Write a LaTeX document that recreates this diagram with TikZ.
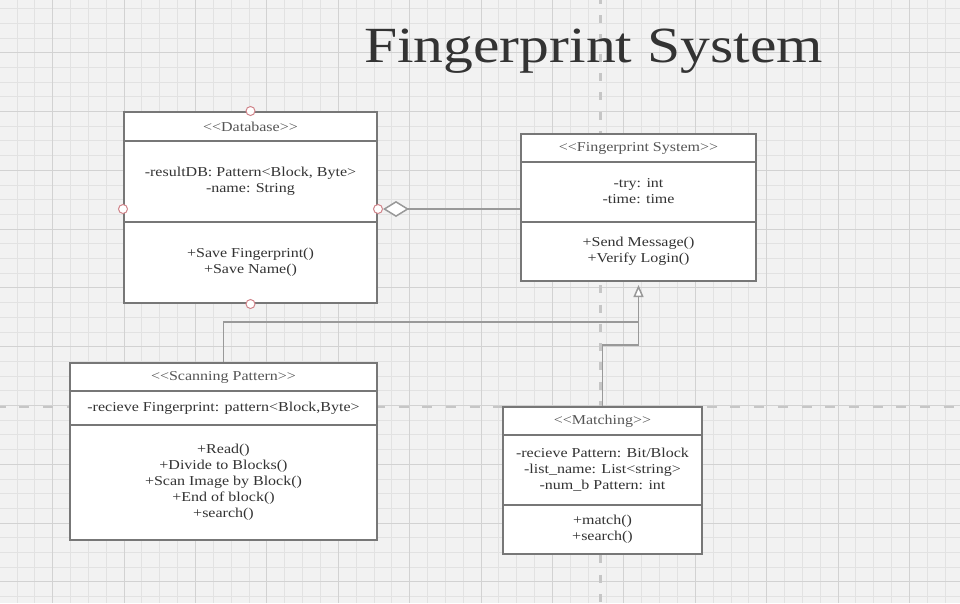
\documentclass[tikz,border=0pt]{standalone}
\usepackage{fontspec}
\setmainfont{Liberation Serif}
\usepackage{graphicx}
\usetikzlibrary{arrows.meta, calc}

\definecolor{bggrey}{HTML}{F2F2F2}
\definecolor{minorgrid}{HTML}{E2E2E2}
\definecolor{majorgrid}{HTML}{D2D2D2}
\definecolor{guidegrey}{HTML}{C6C6C6}
\definecolor{boxline}{HTML}{777777}
\definecolor{wiregrey}{HTML}{999999}
\definecolor{pinmark}{HTML}{D0848A}
\definecolor{txtdark}{HTML}{333333}
\definecolor{txthead}{HTML}{555555}

\newcommand{\sqz}[1]{\scalebox{1}[.85]{#1}}
\newcommand{\lst}[1]{\sqz{\begin{tabular}{@{}c@{}}#1\end{tabular}}}
\newcommand{\stereo}[1]{\sqz{<\kern0pt<#1>\kern0pt>}}

\tikzset{
    my-class-part/.style={
        draw=boxline, line width=2pt, fill=white, inner sep=0pt,
        text=txtdark, font=\fontsize{16}{18.8}\selectfont
    },
    my-class-head/.style={
        my-class-part, text=txthead
    },
    my-pin/.style={
        circle, draw=pinmark, fill=white, line width=1pt, minimum size=9pt, inner sep=0pt
    },
    my-wire/.style={
        draw=wiregrey, line width=1.5pt
    },
}

\begin{document}
\begin{tikzpicture}[x=1pt, y=-1pt]

        \useasboundingbox (0,0) rectangle (960,603);

        % BACKGROUND GRID
        \fill[bggrey] (0,0) rectangle (960,603);
        \foreach \k in {0,...,53}
            \draw[minorgrid, line width=1pt] ({17+17.85*\k},0) -- ({17+17.85*\k},603);
        \foreach \k in {0,...,40}
            \draw[minorgrid, line width=1pt] (0,{8.6+14.7*\k}) -- (960,{8.6+14.7*\k});
        \foreach \k in {2,6,...,50}
            \draw[majorgrid, line width=1pt] ({17+17.85*\k},0) -- ({17+17.85*\k},603);
        \foreach \k in {3,7,...,39}
            \draw[majorgrid, line width=1pt] (0,{8.6+14.7*\k}) -- (960,{8.6+14.7*\k});

        % GUIDE LINES
        \draw[guidegrey, line width=3pt, dash pattern=on 8pt off 11.3pt, dash phase=4.3pt] (600,0) -- (600,603);
        \draw[guidegrey, line width=2pt, dash pattern=on 10pt off 13.7pt, dash phase=4.3pt] (0,407) -- (960,407);

        % TITLE
        \node[text=txtdark, font=\fontsize{59.6}{60}\selectfont, anchor=base] (TITLE) at (593.5,62) {\sqz{Fingerprint System}};

        % DATABASE
        \node[my-class-head, minimum width=253pt, minimum height=29pt] (DBHEAD) at (250.5,126.5) {\stereo{Database}};
        \node[my-class-part, minimum width=253pt, minimum height=81pt] (DBATTR) at (250.5,181.5)
            {\lst{-resultDB: Pattern<Block, Byte>\\-name: String}};
        \node[my-class-part, minimum width=253pt, minimum height=81pt] (DBOPS)  at (250.5,262.5)
            {\lst{+Save Fingerprint()\\+Save Name()}};

        % FINGERPRINT SYSTEM
        \node[my-class-head, minimum width=235pt, minimum height=28pt] (FSHEAD) at (638.5,148) {\stereo{Fingerprint System}};
        \node[my-class-part, minimum width=235pt, minimum height=60pt] (FSATTR) at (638.5,192)
            {\lst{-try: int\\-time: time}};
        \node[my-class-part, minimum width=235pt, minimum height=59pt] (FSOPS)  at (638.5,251.5)
            {\lst{+Send Message()\\+Verify Login()}};

        % SCANNING PATTERN
        \node[my-class-head, minimum width=307pt, minimum height=28pt] (SPHEAD) at (223.5,377) {\stereo{Scanning Pattern}};
        \node[my-class-part, minimum width=307pt, minimum height=34pt] (SPATTR) at (223.5,408)
            {\lst{-recieve Fingerprint: pattern<Block,Byte>}};
        \node[my-class-part, minimum width=307pt, minimum height=115pt] (SPOPS) at (223.5,482.5)
            {\lst{+Read()\\+Divide to Blocks()\\+Scan Image by Block()\\+End of block()\\+search()}};

        % MATCHING
        \node[my-class-head, minimum width=199pt, minimum height=28pt] (MTHEAD) at (602.5,421) {\stereo{Matching}};
        \node[my-class-part, minimum width=199pt, minimum height=70pt] (MTATTR) at (602.5,470)
            {\lst{-recieve Pattern: Bit/Block\\-list\_name: List<string>\\-num\_b Pattern: int}};
        \node[my-class-part, minimum width=199pt, minimum height=49pt] (MTOPS)  at (602.5,529.5)
            {\lst{+match()\\+search()}};

        % DATABASE CONNECTOR POINTS
        \node[my-pin] (DBPINT) at (DBHEAD.north) {};
        \node[my-pin] (DBPINB) at (DBOPS.south) {};
        \node[my-pin] (DBPINL) at ($(DBATTR.south west)+(0,-14)$) {};
        \node[my-pin] (DBPINR) at ($(DBATTR.south east)+(0,-14)$) {};

        % AGGREGATION
        \draw[my-wire, {Diamond[fill=white, length=26pt, width=16pt]}-] (DBPINR.east) -- (DBPINR.east -| FSATTR.west);

        % GENERALIZATION
        \coordinate (GENJ) at (638.5,322);
        \coordinate (MTJ)  at (638.5,345);
        \draw[my-wire, -{Triangle[fill=white, length=12pt, width=10pt]}, shorten >=3pt] (SPHEAD.north) |- (GENJ) -- (FSOPS.south);
        \draw[my-wire] (MTHEAD.north) |- (MTJ) -- (GENJ);

    \end{tikzpicture}
\end{document}
